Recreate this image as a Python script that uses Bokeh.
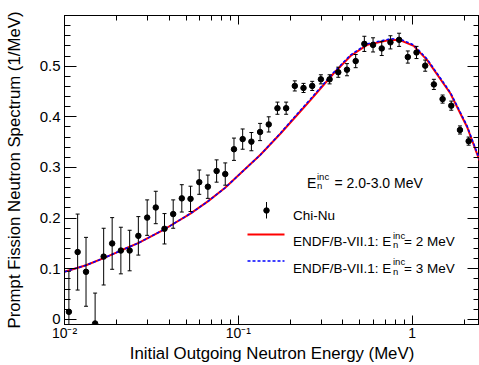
import math
from bokeh.plotting import figure
from bokeh.models import (FixedTicker, LogAxis, LinearAxis, Label, Range1d,
                          CustomJSTickFormatter)
from bokeh.embed import file_html
from bokeh.resources import INLINE

# ---------------- data ----------------
# Chi-Nu measured PFNS, E_inc = 2.0-3.0 MeV
chinu_energy = [0.0106, 0.0119, 0.0133, 0.0150, 0.0168, 0.0188, 0.0211, 0.0237,
                0.0266, 0.0299, 0.0335, 0.0376, 0.0422, 0.0473, 0.0531, 0.0596,
                0.0668, 0.0750, 0.0841, 0.0944, 0.1059, 0.1189, 0.1334, 0.1496,
                0.1679, 0.1884, 0.2113, 0.2371, 0.2661, 0.2985, 0.3350, 0.3758,
                0.4217, 0.4732, 0.5309, 0.5957, 0.6683, 0.7499, 0.8414, 0.9441,
                1.0593, 1.1885, 1.3335, 1.4962, 1.6788, 1.8836, 2.1135]
chinu_value = [0.015, 0.133, 0.094, -0.008, 0.124, 0.150, 0.136, 0.136,
               0.165, 0.201, 0.221, 0.179, 0.208, 0.239, 0.238, 0.271,
               0.262, 0.293, 0.287, 0.336, 0.356, 0.351, 0.370, 0.385,
               0.417, 0.417, 0.461, 0.457, 0.461, 0.474, 0.474, 0.488,
               0.493, 0.510, 0.544, 0.542, 0.535, 0.547, 0.552, 0.518,
               0.527, 0.501, 0.464, 0.435, 0.422, 0.374, 0.352]
chinu_error = [0.080, 0.075, 0.068, 0.060, 0.056, 0.051, 0.046, 0.040,
               0.038, 0.035, 0.032, 0.030, 0.028, 0.027, 0.025, 0.024,
               0.023, 0.022, 0.022, 0.022, 0.020, 0.018, 0.017, 0.015,
               0.012, 0.012, 0.010, 0.009, 0.009, 0.009, 0.009, 0.010,
               0.012, 0.013, 0.015, 0.014, 0.014, 0.013, 0.013, 0.012,
               0.012, 0.011, 0.010, 0.008, 0.009, 0.008, 0.008]

# ENDF/B-VII.1 evaluated spectra
endf_energy = [0.01, 0.0133, 0.0168, 0.0211, 0.0267, 0.0376, 0.053, 0.0668,
               0.084, 0.1027, 0.134, 0.175, 0.2278, 0.26, 0.354, 0.4418,
               0.551, 0.75, 0.857, 1.02, 1.22, 1.66, 2.07, 2.44]
endf_2mev = [0.094, 0.107, 0.121, 0.136, 0.151, 0.178, 0.209, 0.233,
             0.260, 0.288, 0.325, 0.367, 0.411, 0.433, 0.486, 0.520,
             0.542, 0.552, 0.551, 0.540, 0.512, 0.446, 0.380, 0.314]
endf_3mev = [0.094, 0.107, 0.121, 0.136, 0.151, 0.178, 0.209, 0.233,
             0.260, 0.288, 0.325, 0.368, 0.413, 0.435, 0.488, 0.522,
             0.544, 0.554, 0.553, 0.542, 0.514, 0.448, 0.382, 0.316]

x_tick_decades = [-2, -1, 0]
y_major_ticks = [0.0, 0.1, 0.2, 0.3, 0.4, 0.5]
x_title = "Initial Outgoing Neutron Energy (MeV)"
y_title = "Prompt Fission Neutron Spectrum (1/MeV)"

# ---------------- figure ----------------
XMIN, XMAX = 0.01, 2.44
YMIN, YMAX = -0.01, 0.6
FONT = "Liberation Sans"

p = figure(width=479, height=365, x_axis_type="log",
           x_range=Range1d(XMIN, XMAX), y_range=Range1d(YMIN, YMAX),
           output_backend="svg", toolbar_location=None,
           min_border_left=64, min_border_right=0, min_border_top=15,
           min_border_bottom=41)
p.background_fill_color = "white"
p.border_fill_color = "white"
p.outline_line_color = "black"
p.outline_line_width = 1
p.grid.visible = False

x_ticker = FixedTicker(ticks=[10.0 ** d for d in x_tick_decades],
                       minor_ticks=[m * 10.0 ** d for d in x_tick_decades for m in range(2, 10)])
y_ticker = FixedTicker(ticks=y_major_ticks,
                       minor_ticks=[round(0.02 * i, 2) for i in range(0, 31)])

x_fmt = CustomJSTickFormatter(code="""
const e = Math.round(Math.log10(tick));
if (e === 0) return "1";
const sup = {"-1": "\u207B\u00B9", "-2": "\u207B\u00B2", "-3": "\u207B\u00B3"};
return "10" + (sup[String(e)] || "");
""")
y_fmt = CustomJSTickFormatter(code="return Math.abs(tick) < 1e-9 ? '0' : tick.toFixed(1);")

xa = p.xaxis[0]
xa.ticker = x_ticker
xa.formatter = x_fmt
xa.axis_label = x_title
ya = p.yaxis[0]
ya.ticker = y_ticker
ya.formatter = y_fmt
ya.axis_label = y_title

for ax, tin, tmin in ((xa, 9, 5), (ya, 12, 6)):
    ax.major_tick_in = tin
    ax.major_tick_out = 0
    ax.minor_tick_in = tmin
    ax.minor_tick_out = 0
    ax.major_tick_line_color = "black"
    ax.minor_tick_line_color = "black"
    ax.axis_line_color = "black"
    ax.major_label_text_font = FONT
    ax.major_label_text_color = "black"
    ax.axis_label_text_font = FONT
    ax.axis_label_text_font_style = "normal"
    ax.axis_label_text_color = "black"
xa.major_label_text_font_size = "14px"
ya.major_label_text_font_size = "15px"
xa.axis_label_text_font_size = "16.8px"
ya.axis_label_text_font_size = "16.8px"
xa.major_label_standoff = 0
xa.axis_label_standoff = 0
ya.major_label_standoff = 4
ya.axis_label_standoff = 13

top = LogAxis(ticker=x_ticker, major_tick_in=9, major_tick_out=0,
              minor_tick_in=5, minor_tick_out=0, major_label_standoff=0,
              major_label_text_font_size="0px", formatter=CustomJSTickFormatter(code="return '';"))
right = LinearAxis(ticker=y_ticker, major_tick_in=12, major_tick_out=0,
                   minor_tick_in=6, minor_tick_out=0, major_label_standoff=0,
                   major_label_text_font_size="0px", formatter=CustomJSTickFormatter(code="return '';"))
p.add_layout(top, "above")
p.add_layout(right, "right")

# ---------------- curves ----------------
p.line(endf_energy, endf_2mev, line_color="red", line_width=2)
p.line(endf_energy, endf_3mev, line_color="blue", line_width=1.5, line_dash="3 2")

# ---------------- Chi-Nu points with error bars ----------------
lo = [v - e for v, e in zip(chinu_value, chinu_error)]
hi = [v + e for v, e in zip(chinu_value, chinu_error)]
p.segment(x0=chinu_energy, y0=lo, x1=chinu_energy, y1=hi, line_color="black", line_width=1)
p.scatter(chinu_energy, hi, marker="dash", size=4, line_color="black", line_width=1)
p.scatter(chinu_energy, lo, marker="dash", size=4, line_color="black", line_width=1)
p.scatter(chinu_energy, chinu_value, marker="circle", size=5.5, color="black")

# ---------------- annotation & legend (placed by pixel position) ----------------
F_L, F_R, F_T, F_B = 64, 479, 15, 324

def dx(px):
    a, b = math.log10(XMIN), math.log10(XMAX)
    return 10 ** (a + (px - F_L) / (F_R - F_L) * (b - a))

def dy(py):
    return YMIN + (F_B - py) / (F_B - F_T) * (YMAX - YMIN)

def lab(px, py, text, size="13.5px", align="left"):
    p.add_layout(Label(x=dx(px), y=dy(py), text=text, text_font=FONT,
                       text_font_size=size, text_color="black",
                       text_align=align, text_baseline="alphabetic"))

# header text  E_n^inc = 2.0-3.0 MeV
lab(306.5, 182, "E", "14px")
lab(316.5, 176, "inc", "9.5px")
lab(316.5, 185, "n", "9.5px")
lab(334, 182, "= 2.0-3.0 MeV", "14px")

# legend row 1: Chi-Nu
p.segment(x0=[dx(266)], y0=[dy(201.5)], x1=[dx(266)], y1=[dy(218)], line_color="black", line_width=1)
p.scatter([dx(266)], [dy(210)], marker="circle", size=5.5, color="black")
lab(292.5, 214.5, "Chi-Nu")

# legend row 2 & 3: ENDF curves
for ly, color, width, dash, mev in ((234, "red", 2, "solid", "2"), (260.5, "blue", 1.5, "3 2", "3")):
    p.line([dx(247), dx(284)], [dy(ly), dy(ly)], line_color=color, line_width=width, line_dash=dash)
    base = ly + 7
    lab(292.5, base, "ENDF/B-VII.1: E")
    lab(392.5, base - 6.5, "inc", "9.5px")
    lab(392.5, base + 3, "n", "9.5px")
    lab(403.5, base, "= " + mev + " MeV")

open("out.html", "w").write(file_html(p, INLINE))
